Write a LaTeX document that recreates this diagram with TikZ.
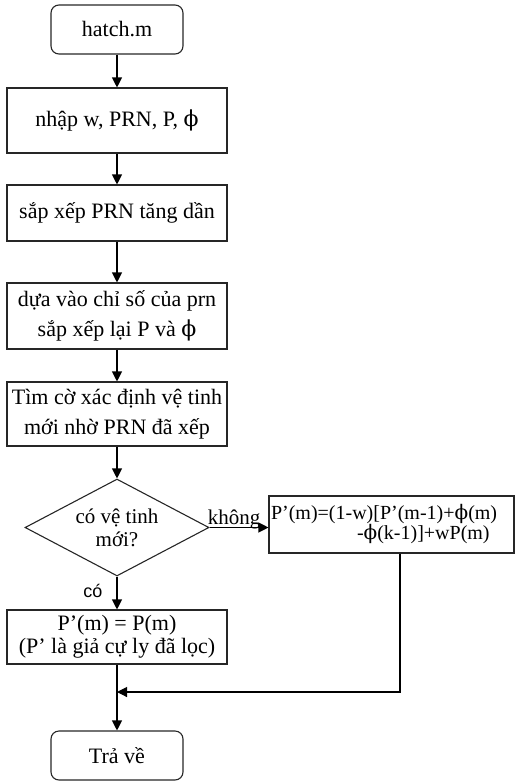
\documentclass[tikz,border=0pt]{standalone}
\usepackage{fontspec}
\setmainfont{Liberation Serif}
\setsansfont{Liberation Sans}
\newfontfamily\phifont{DejaVu Serif}
\usetikzlibrary{shapes.geometric,arrows.meta,calc}
\newcommand{\myphi}{{\phifont ϕ}}
\tikzset{
  base/.style={draw=black!85, line width=1.1pt, inner sep=0pt, align=center, font=\fontsize{22}{30}\selectfont},
  proc/.style={base, rectangle, minimum width=220pt},
  term/.style={base, rectangle, rounded corners=8pt, minimum width=132pt, minimum height=49pt},
  decis/.style={base, diamond, shape aspect=1.9, minimum width=184pt, minimum height=97pt, font=\fontsize{21}{23}\selectfont},
  arr/.style={line width=1.1pt, -{Triangle[length=10pt,width=10pt]}},
  ln/.style={line width=1.1pt}
}
\begin{document}
\begin{tikzpicture}[x=1pt,y=1pt]
\useasboundingbox (0,0) rectangle (515,-782);
\node[term] (start) at (117,-29.5) {hatch.m};
\node[proc, minimum height=65pt] (n1) at (117,-120.5) {nhập w, PRN, P, \myphi};
\node[proc, minimum height=56pt] (n2) at (117,-213) {sắp xếp PRN tăng dần};
\node[proc, minimum height=66pt] (n3) at (117,-316) {dựa vào chỉ số của prn\\sắp xếp lại P và \myphi};
\node[proc, minimum height=64pt] (n4) at (117,-414) {Tìm cờ xác định vệ tinh\\mới nhờ PRN đã xếp};
\node[decis] (dec) at (117,-527.5) {có vệ tinh\\mới?};
\node[base, rectangle, minimum height=57pt, text width=241pt, inner xsep=2pt, align=left, font=\fontsize{20}{20}\selectfont] (r) at (391.5,-524.5)
  {P’(m)=(1-w)[P’(m-1)+\myphi(m)\\\hspace*{86pt}-\myphi(k-1)]+wP(m)};
\node[proc, minimum height=54pt, font=\fontsize{22}{23}\selectfont] (yes) at (117,-637) {P’(m) = P(m)\\(P’ là giả cự ly đã lọc)};
\node[term] (end) at (117,-755.5) {Trả về};
\node[anchor=base, font=\fontsize{21}{21}\selectfont] (lk) at (234,-524) {không};
\node[anchor=base, font=\sffamily\fontsize{18}{18}\selectfont] (lc) at (93,-597) {có};
\coordinate (jn) at (117,-692);
\coordinate (rx) at (400,0);
\draw[arr] (start) -- (n1);
\draw[arr] (n1) -- (n2);
\draw[arr] (n2) -- (n3);
\draw[arr] (n3) -- (n4);
\draw[arr] (n4) -- (dec);
\draw[arr] (dec.east) -- (dec.east -| r.west);
\draw[arr] (dec.south) -- (yes);
\draw[ln] (yes) -- (jn);
\draw[arr] (jn) -- (end);
\draw[arr] (r.south -| rx) |- (jn);
\end{tikzpicture}
\end{document}
